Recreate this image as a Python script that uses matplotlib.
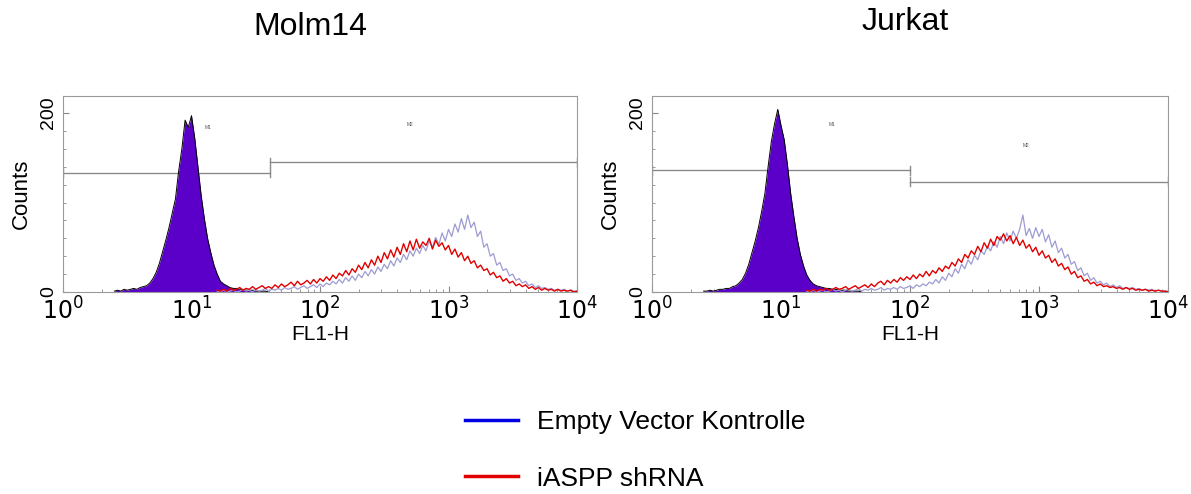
import numpy as np
import matplotlib
matplotlib.use("Agg")
import matplotlib.pyplot as plt
from matplotlib.lines import Line2D
from matplotlib.ticker import FixedLocator, LogLocator, NullFormatter

plt.rcParams['font.family'] = ['Liberation Sans', 'DejaVu Sans']

# ---------------- data (log10 of FL1-H channel start, step 0.025) ----------------
panel_titles = ["Molm14", "Jurkat"]
legend_labels = ["Empty Vector Kontrolle", "iASPP shRNA"]
x_tick_labels = [r"$10^0$", r"$10^1$", r"$10^2$", r"$10^3$", r"$10^4$"]

neg_start = 0.40
pos_start = 1.20
bin_step = 0.025

molm_neg = [1, 2, 1, 3, 2, 3, 4, 3, 5, 6, 7, 10, 15, 22, 32, 45, 58, 72, 88, 104,
            135, 160, 192, 184, 197, 172, 140, 108, 82, 60, 44, 30, 20, 12, 9, 7, 5, 4, 4, 3,
            3, 2, 2, 2, 1, 1, 1, 1, 0]
molm_ev = [1, 0, 2, 0, 1, 2, 0, 1, 3, 1, 2, 0, 3, 1, 2, 4, 1, 3, 2, 4,
           2, 5, 3, 4, 6, 3, 5, 7, 4, 6, 8, 5, 9, 6, 10, 8, 12, 9, 14, 10,
           16, 12, 18, 13, 20, 16, 23, 18, 25, 20, 28, 23, 31, 26, 35, 29, 38, 33, 42, 36,
           46, 40, 49, 43, 52, 46, 57, 50, 61, 53, 66, 57, 70, 62, 76, 67, 82, 70, 86, 72,
           78, 62, 68, 50, 54, 40, 43, 30, 33, 24, 26, 18, 20, 13, 15, 10, 12, 7, 9, 5,
           7, 4, 5, 3, 4, 2, 3, 2, 3, 1, 2, 1, 1]
molm_sh = [2, 1, 3, 1, 4, 2, 3, 5, 2, 4, 3, 6, 3, 5, 7, 4, 6, 4, 8, 5,
           9, 6, 8, 11, 7, 12, 8, 10, 13, 9, 14, 10, 15, 12, 17, 13, 19, 15, 21, 18,
           24, 19, 26, 22, 30, 25, 33, 27, 36, 30, 40, 33, 44, 37, 47, 39, 50, 42, 54, 45,
           57, 47, 59, 49, 56, 52, 60, 48, 58, 51, 55, 47, 52, 42, 48, 39, 44, 35, 40, 32,
           35, 27, 30, 24, 26, 19, 22, 16, 18, 12, 15, 10, 12, 7, 9, 6, 8, 4, 6, 3,
           5, 2, 4, 2, 3, 1, 3, 1, 2, 1, 2, 0, 1]

jur_neg = [1, 1, 2, 1, 2, 3, 3, 4, 4, 6, 7, 10, 14, 21, 31, 44, 57, 72, 90, 110,
           140, 168, 188, 204, 186, 170, 142, 110, 84, 60, 42, 29, 19, 13, 9, 7, 6, 5, 4, 4,
           3, 3, 2, 2, 2, 1, 1, 1, 1, 0]
jur_ev = [1, 0, 2, 0, 1, 2, 0, 1, 3, 1, 2, 0, 2, 3, 1, 2, 4, 1, 3, 2,
          4, 2, 3, 5, 2, 4, 3, 5, 3, 6, 4, 5, 7, 4, 8, 6, 9, 7, 11, 9,
          14, 10, 17, 13, 21, 17, 26, 21, 31, 26, 36, 31, 41, 36, 46, 42, 51, 46, 56, 50,
          62, 54, 66, 57, 68, 60, 70, 86, 63, 71, 60, 72, 62, 70, 56, 64, 50, 57, 44, 49,
          38, 42, 31, 34, 24, 27, 18, 21, 13, 16, 10, 12, 8, 10, 6, 8, 5, 7, 4, 5,
          4, 5, 3, 4, 2, 3, 2, 3, 1, 2, 1, 1, 1]
jur_sh = [2, 1, 3, 1, 3, 2, 4, 2, 3, 5, 3, 4, 6, 3, 5, 7, 4, 6, 8, 5,
          9, 6, 10, 12, 8, 13, 10, 14, 11, 16, 13, 17, 14, 19, 15, 20, 17, 23, 18, 24,
          21, 27, 23, 29, 26, 33, 29, 37, 33, 42, 38, 46, 42, 51, 45, 55, 49, 59, 52, 62,
          58, 65, 57, 63, 54, 61, 52, 58, 49, 53, 45, 50, 41, 46, 38, 41, 33, 37, 29, 32,
          25, 28, 20, 23, 16, 18, 12, 14, 9, 11, 7, 9, 6, 7, 5, 6, 4, 5, 3, 5,
          3, 4, 2, 3, 2, 3, 1, 2, 1, 2, 1, 1, 0]

# gates: (start, end, height)
molm_gates = [(1.0, 41.0, 133), (41.0, 10000.0, 145)]
jur_gates = [(1.0, 100.0, 136), (100.0, 10000.0, 123)]
molm_gate_labels = [("M1", 13.5, 184), ("M2", 500.0, 187)]
jur_gate_labels = [("M1", 25.0, 187), ("M2", 800.0, 164)]

panels = [
    (molm_neg, molm_ev, molm_sh, molm_gates, molm_gate_labels),
    (jur_neg, jur_ev, jur_sh, jur_gates, jur_gate_labels),
]

# ---------------- figure ----------------
W, H = 1191, 494
fig = plt.figure(figsize=(W / 100, H / 100), dpi=100)

ax_boxes = [(63, 96, 577, 292), (652, 96, 1168, 292)]
title_pos = [(310, 27), (905, 22)]

fill_color = '#5a00c8'
ev_color = '#9c9cd2'
sh_color = '#e00000'
gate_color = '#8a8a8a'

for (l, t, r, b), (neg, ev, sh, gates, glabels), title, (tx, ty) in zip(
        ax_boxes, panels, panel_titles, title_pos):
    ax = fig.add_axes([l / W, 1 - b / H, (r - l) / W, (b - t) / H])
    xn = 10 ** (neg_start + bin_step * np.arange(len(neg)))
    xp_ev = 10 ** (pos_start + bin_step * np.arange(len(ev)))
    xp_sh = 10 ** (pos_start + bin_step * np.arange(len(sh)))

    ax.fill_between(xn, neg, 0, color=fill_color, linewidth=0, zorder=2)
    ax.plot(xn, neg, color='black', lw=0.7, zorder=3)
    ax.plot(xp_ev, ev, color=ev_color, lw=0.9, zorder=4)
    ax.plot(xp_sh, sh, color=sh_color, lw=1.0, zorder=5)

    for (g0, g1, gh) in gates:
        ax.plot([g0, g1], [gh, gh], color=gate_color, lw=1.0, zorder=1)
        ax.plot([g0, g0], [gh - 5, gh + 5], color=gate_color, lw=1.0, zorder=1)
        ax.plot([g1, g1], [gh - 5, gh + 5], color=gate_color, lw=1.0, zorder=1)
    for (txt, gx, gy) in glabels:
        ax.text(gx, gy, txt, fontsize=3.5, color='#555555', ha='center', va='center')

    ax.set_xscale('log')
    ax.set_xlim(1, 10000)
    ax.set_ylim(0, 219)
    ax.set_xticks([1, 10, 100, 1000, 10000])
    ax.set_xticklabels(x_tick_labels, fontsize=17)
    ax.xaxis.set_minor_locator(LogLocator(base=10, subs=np.arange(2, 10)))
    ax.xaxis.set_minor_formatter(NullFormatter())
    ax.set_yticks([0, 200])
    ax.set_yticklabels(["0", "200"], fontsize=14, rotation=90, va='center')
    ax.yaxis.set_minor_locator(FixedLocator(np.arange(20, 200, 20)))
    ax.tick_params(axis='both', which='major', direction='in', length=4, width=0.8,
                   color='#888888', pad=4)
    ax.tick_params(axis='both', which='minor', direction='in', length=2.5, width=0.6,
                   color='#888888')
    for sp in ax.spines.values():
        sp.set_color('#9a9a9a')
        sp.set_linewidth(0.8)
    ax.set_xlabel("FL1-H", fontsize=15, labelpad=0)
    ax.set_ylabel("Counts", fontsize=16, labelpad=6)
    fig.text(tx / W, 1 - ty / H, title, fontsize=23, ha='center', va='center')

handles = [Line2D([], [], color='#0000e0', lw=2.5), Line2D([], [], color='#e00000', lw=2.5)]
fig.legend(handles, legend_labels, loc='upper left', bbox_to_anchor=(465 / W, 1 - 410 / H),
           frameon=False, fontsize=19, handlelength=2.0, handletextpad=0.72,
           labelspacing=1.24, borderpad=0, borderaxespad=0)

fig.savefig("out.png", dpi=100)
